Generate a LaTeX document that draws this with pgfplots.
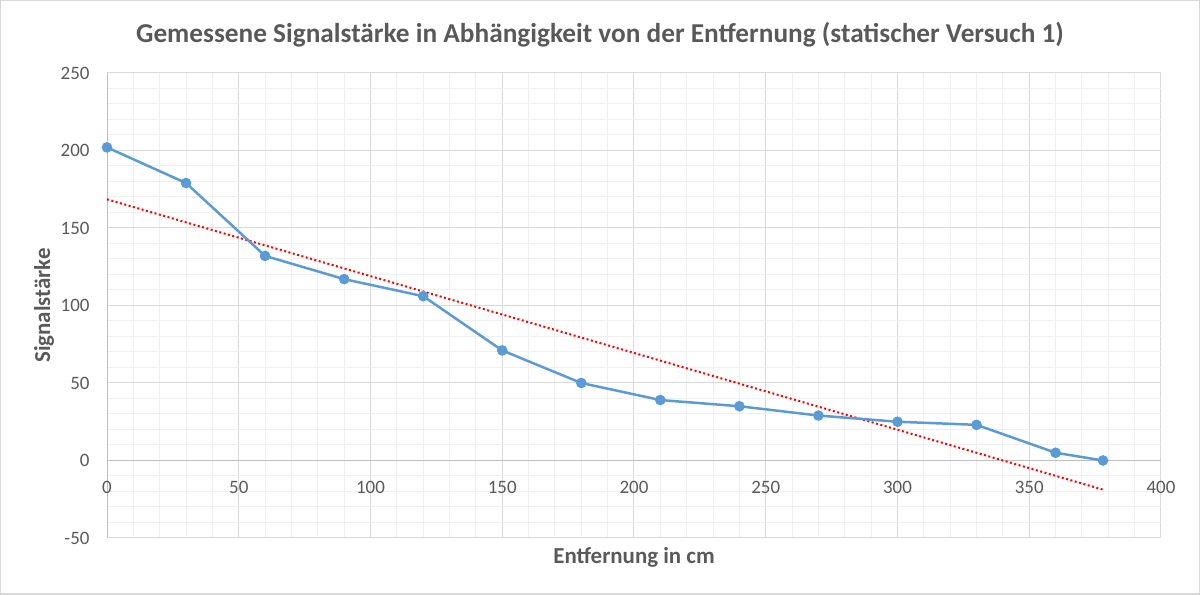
\documentclass[border=0pt]{standalone}
\usepackage{pgfplots}
\pgfplotsset{compat=1.18}
\usepackage{fontspec}
\setmainfont{Carlito}
\definecolor{txt}{HTML}{595959}
\definecolor{blue1}{HTML}{5B9BD5}
\definecolor{majg}{HTML}{D9D9D9}
\definecolor{ming}{HTML}{EFEFEF}
\definecolor{axg}{HTML}{BFBFBF}
\begin{document}
\begin{tikzpicture}[x=1bp,y=1bp]
\useasboundingbox (0,0) rectangle (1200,595);
\draw[color=majg, line width=1.5bp] (0.75,0.75) rectangle (1199.25,594.25);
\node[font=\bfseries\fontsize{27.4}{30}\selectfont, text=txt] at (600,560) {Gemessene Signalstärke in Abhängigkeit von der Entfernung (statischer Versuch 1)};
\begin{axis}[
 at={(107bp,57bp)}, anchor=south west,
 scale only axis, width=1054bp, height=465bp,
 xmin=0, xmax=400, ymin=-50, ymax=250,
 xtick={0,50,...,400}, ytick={-50,0,...,250},
 minor tick num=4,
 grid=both,
 major grid style={majg, line width=1bp},
 minor grid style={ming, line width=1bp},
 axis x line=middle, axis y line=left,
 axis line style={-, axg, line width=1bp},
 hide obscured x ticks=false, hide obscured y ticks=false,
 major tick length=0pt, minor tick length=0pt,
 /pgf/number format/assume math mode=true,
 tick label style={font=\fontsize{19}{21}\selectfont, text=txt},
 xticklabel style={anchor=north, yshift=-17bp},
 yticklabel style={anchor=east, xshift=-14bp},
 xlabel={Entfernung in cm},
 ylabel={Signalstärke},
 xlabel style={font=\bfseries\fontsize{23}{25}\selectfont, text=txt, at={(axis description cs:0.5,0)}, anchor=center, yshift=-19bp},
 ylabel style={font=\bfseries\fontsize{23}{25}\selectfont, text=txt, at={(axis description cs:0,0.5)}, anchor=center, yshift=63bp},
 clip=false,
]
\addplot[red, line width=2bp, dash pattern=on 2bp off 2.5bp] coordinates {(0,168.5) (378,-18.8)};
\addplot[blue1, line width=2.5bp, mark=*, mark size=4.8bp, mark options={fill=blue1, draw=blue1, line width=1bp, solid}] coordinates {
(0,202) (30,179) (60,132) (90,117) (120,106) (150,71) (180,50) (210,39) (240,35) (270,29) (300,25) (330,23) (360,5) (378,0)};
\end{axis}
\end{tikzpicture}
\end{document}
